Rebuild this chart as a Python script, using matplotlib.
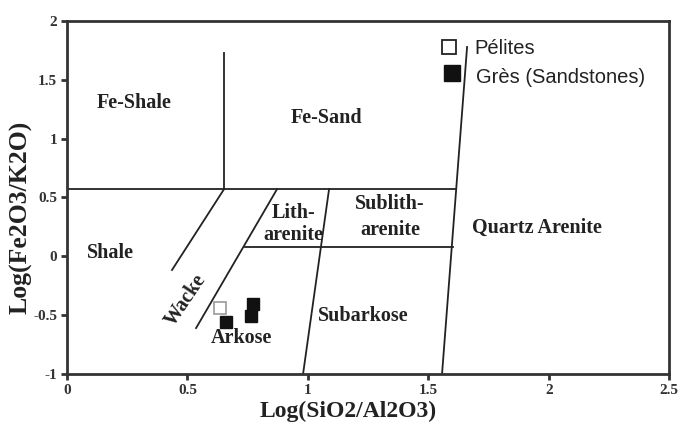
import matplotlib
matplotlib.use("Agg")
import matplotlib.pyplot as plt

# boundaries of the classification diagram (x = log SiO2/Al2O3, y = log Fe2O3/K2O)
boundaries = [
    ([0.652, 0.652], [1.726, 0.57]),     # Fe-Shale / Fe-Sand
    ([0.0, 1.615], [0.57, 0.57]),        # shale-sand limit
    ([0.652, 0.436], [0.57, -0.116]),    # wacke left
    ([0.872, 0.536], [0.57, -0.609]),    # wacke right
    ([0.739, 1.603], [0.079, 0.079]),    # litharenite / arkose
    ([1.088, 0.980], [0.57, -1.0]),      # sublitharenite / subarkose
    ([1.661, 1.557], [1.777, -1.0]),     # quartz arenite
]

# samples
pel_x = [0.635]
pel_y = [-0.441]
gres_x = [0.659, 0.774, 0.763]
gres_y = [-0.555, -0.408, -0.510]

xticks = [0, 0.5, 1, 1.5, 2, 2.5]
xtick_labels = ["0", "0.5", "1", "1.5", "2", "2.5"]
yticks = [-1, -0.5, 0, 0.5, 1, 1.5, 2]
ytick_labels = ["-1", "-0.5", "0", "0.5", "1", "1.5", "2"]

serif = "Liberation Serif"

fig = plt.figure(figsize=(6.82, 4.32), dpi=100)
ax = fig.add_axes([0.0982, 0.134, 0.883, 0.818])

for bx, by in boundaries:
    ax.plot(bx, by, color="#222222", linewidth=1.3)

ax.plot(pel_x, pel_y, "s", markersize=8, markerfacecolor="white",
        markeredgecolor="#999999", markeredgewidth=1.2, linestyle="none")
ax.plot(gres_x, gres_y, "s", markersize=8, color="#111111", linestyle="none")

# legend drawn by hand in data space
ax.plot([1.586], [1.774], "s", markersize=10, markerfacecolor="white",
        markeredgecolor="#222222", markeredgewidth=1.3)
ax.plot([1.598], [1.556], "s", markersize=11.5, color="#111111")
ax.text(1.69, 1.768, "Pélites", fontsize=14.5, family="Liberation Sans",
        va="center", ha="left", color="#222222")
ax.text(1.70, 1.522, "Grès (Sandstones)", fontsize=14.5, family="Liberation Sans",
        va="center", ha="left", color="#222222")

lab = dict(family=serif, fontweight="bold", fontsize=14.5, color="#222222",
           ha="center", va="center")
ax.text(0.278, 1.30, "Fe-Shale", **lab)
ax.text(1.076, 1.171, "Fe-Sand", **lab)
ax.text(0.179, 0.03, "Shale", **lab)
ax.text(0.940, 0.365, "Lith-", **lab)
ax.text(0.940, 0.181, "arenite", **lab)
ax.text(1.341, 0.443, "Sublith-", **lab)
ax.text(1.341, 0.223, "arenite", **lab)
ax.text(1.953, 0.238, "Quartz Arenite", **lab)
ax.text(1.228, -0.507, "Subarkose", **lab)
ax.text(0.723, -0.695, "Arkose", **lab)
ax.text(0.494, -0.372, "Wacke", rotation=56, **lab)

ax.set_xlim(0, 2.5)
ax.set_ylim(-1, 2)
ax.set_xticks(xticks)
ax.set_xticklabels(xtick_labels)
ax.set_yticks(yticks)
ax.set_yticklabels(ytick_labels)
for t in ax.get_xticklabels() + ax.get_yticklabels():
    t.set_family(serif)
    t.set_fontweight("bold")
    t.set_fontsize(11)
    t.set_color("#333333")
ax.tick_params(direction="out", length=4, width=2, color="#333333", pad=3)

for s in ax.spines.values():
    s.set_linewidth(2)
    s.set_color("#333333")

ax.set_xlabel("Log(SiO2/Al2O3)", family=serif, fontweight="bold",
              fontsize=17, color="#222222")
ax.xaxis.set_label_coords(0.467, -0.075)
ax.set_ylabel("Log(Fe2O3/K2O)", family=serif, fontweight="bold",
              fontsize=18.5, color="#222222")
ax.yaxis.set_label_coords(-0.058, 0.443)

fig.savefig("out.png", dpi=100)
